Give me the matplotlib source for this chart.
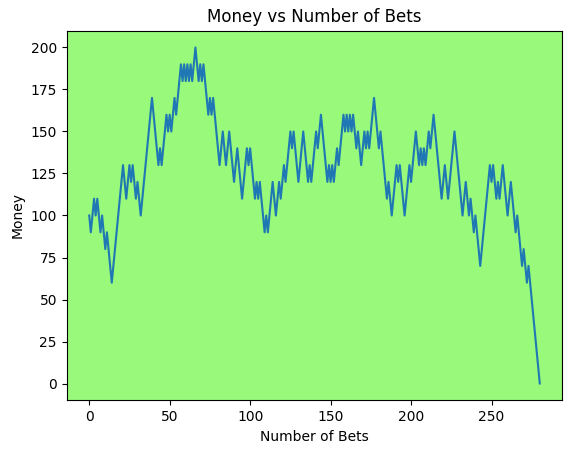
import matplotlib
matplotlib.use("Agg")
import matplotlib.pyplot as plt

money = [
    100, 90, 100, 110, 100, 110, 100, 90, 100, 90,
    80, 90, 80, 70, 60, 70, 80, 90, 100, 110,
    120, 130, 120, 110, 120, 130, 120, 130, 120, 110,
    120, 110, 100, 110, 120, 130, 140, 150, 160, 170,
    160, 150, 140, 130, 140, 130, 140, 150, 160, 150,
    160, 150, 160, 170, 160, 170, 180, 190, 180, 190,
    180, 190, 180, 190, 180, 190, 200, 190, 180, 190,
    180, 190, 180, 170, 160, 170, 160, 170, 160, 150,
    140, 130, 140, 150, 140, 130, 140, 150, 140, 130,
    120, 130, 140, 130, 120, 110, 120, 130, 140, 130,
    140, 130, 120, 110, 120, 110, 120, 110, 100, 90,
    100, 90, 100, 110, 120, 110, 100, 110, 120, 110,
    120, 130, 120, 130, 140, 150, 140, 150, 140, 130,
    120, 130, 140, 150, 140, 130, 120, 130, 120, 130,
    140, 150, 140, 150, 160, 150, 140, 130, 120, 130,
    120, 130, 120, 130, 140, 130, 140, 150, 160, 150,
    160, 150, 160, 150, 160, 150, 140, 150, 140, 130,
    140, 150, 140, 150, 140, 150, 160, 170, 160, 150,
    140, 150, 140, 130, 120, 110, 120, 110, 100, 110,
    120, 130, 120, 130, 120, 110, 100, 110, 120, 130,
    120, 130, 140, 150, 140, 130, 140, 130, 140, 130,
    140, 150, 140, 150, 160, 150, 140, 130, 120, 110,
    120, 130, 120, 110, 120, 130, 140, 150, 140, 130,
    120, 110, 100, 110, 120, 110, 100, 110, 100, 90,
    100, 90, 80, 70, 80, 90, 100, 110, 120, 130,
    120, 130, 120, 110, 120, 110, 120, 130, 120, 110,
    100, 110, 120, 110, 100, 90, 100, 90, 80, 70,
    80, 70, 60, 70, 60, 50, 40, 30, 20, 10,
    0,
]
bets = list(range(len(money)))

fig = plt.figure(figsize=(5.71, 4.53), dpi=100)
ax = fig.add_axes([66.7 / 571, 52.7 / 453, (562.3 - 66.7) / 571, 369.6 / 453])
ax.set_facecolor("#98F97B")
ax.plot(bets, money, color="#1f77b4")
ax.set_title("Money vs Number of Bets")
ax.set_xlabel("Number of Bets")
ax.set_ylabel("Money")
fig.savefig("out.png", dpi=100)
